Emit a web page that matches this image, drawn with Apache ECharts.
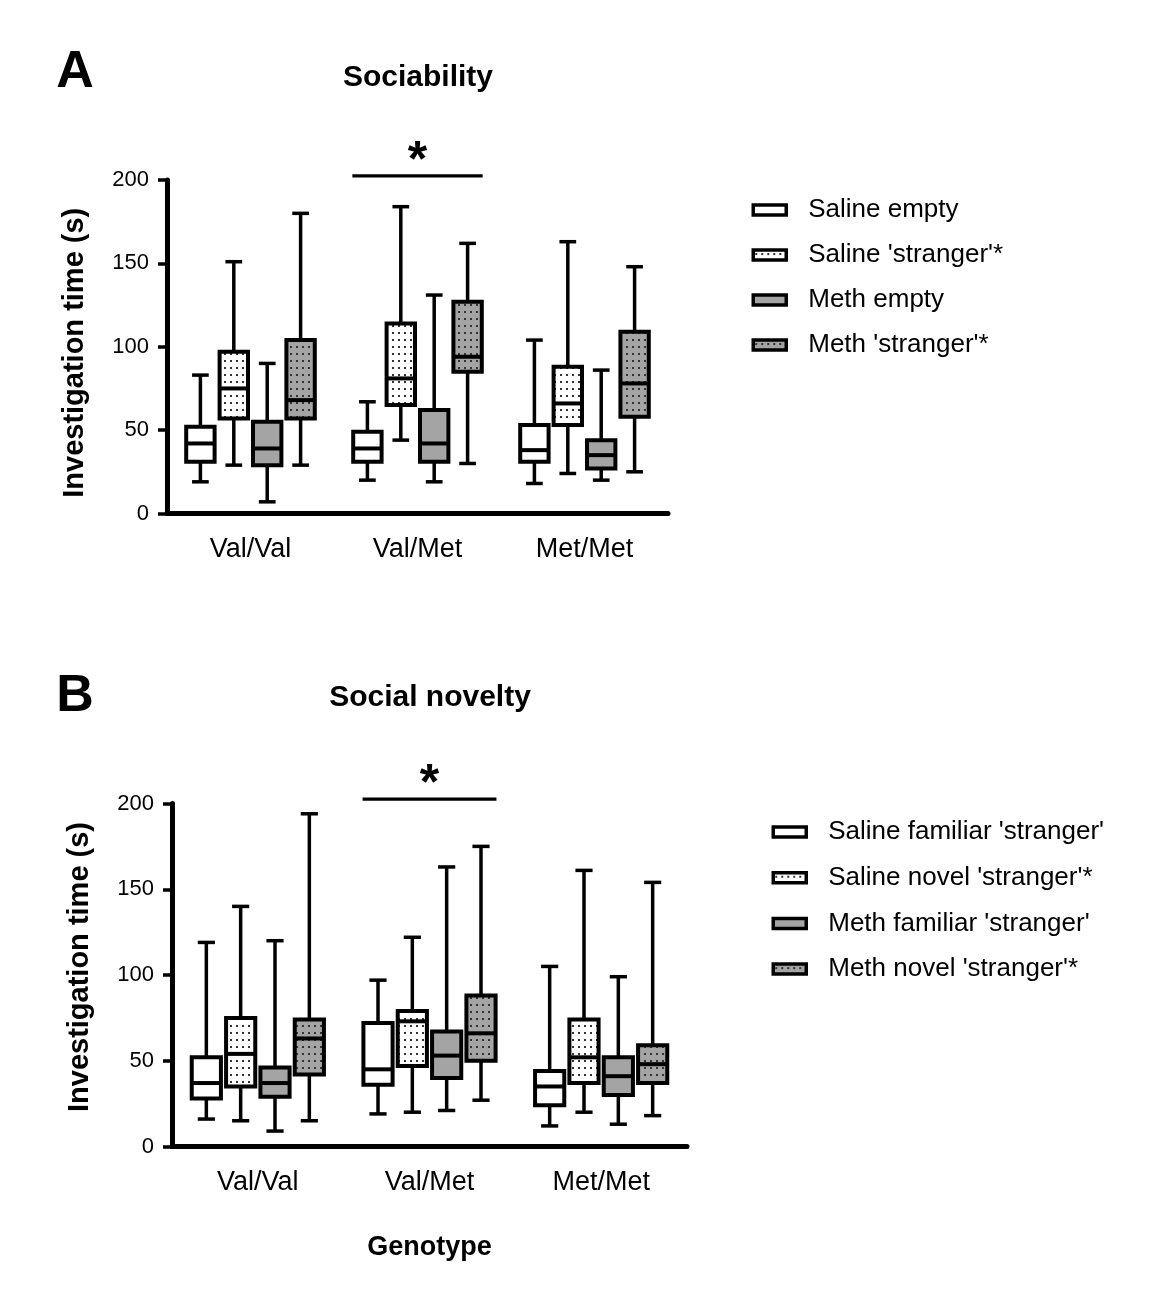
<!DOCTYPE html>
<html>
<head>
<meta charset="utf-8">
<script src="https://cdn.jsdelivr.net/npm/echarts@6/dist/echarts.min.js"></script>
<style>html,body{margin:0;background:#fff}#main{width:1166px;height:1311px}</style>
</head>
<body>
<div id="main"></div>
<script>
// genotypes on the x axis
var genotypes = ['Val/Val', 'Val/Met', 'Met/Met'];
var yTicks = [0, 50, 100, 150, 200];

// box values per genotype: [min, q1, median, q3, max]
// A - sociability
var salineEmpty    = [[19, 31, 42, 52, 83], [20, 31, 39, 49, 67], [18, 31, 38, 53, 104]];
var salineStranger = [[29, 57, 75, 97, 151], [44, 65, 81, 114, 184], [24, 53, 66, 88, 163]];
var methEmpty      = [[7, 29, 39, 55, 90], [19, 31, 42, 62, 131], [20, 27, 35, 44, 86]];
var methStranger   = [[29, 57, 68, 104, 180], [30, 85, 94, 127, 162], [25, 58, 78, 109, 148]];

// B - social novelty
var salineFamiliar = [[16, 28, 37, 52, 119], [19, 36, 45, 72, 97], [12, 24, 35, 44, 105]];
var salineNovel    = [[15, 35, 54, 75, 140], [20, 47, 73, 79, 122], [20, 37, 52, 74, 161]];
var methFamiliar   = [[9, 29, 37, 46, 120], [21, 40, 53, 67, 163], [13, 30, 41, 52, 99]];
var methNovel      = [[15, 42, 63, 74, 194], [27, 50, 66, 88, 175], [18, 37, 48, 59, 154]];

// significance bar: genotype index, height
var sigGroup = 1, sigLevel = 202.5;

var GRAY = '#a4a4a4';
function dots(bg) {
    var c = document.createElement('canvas');
    c.width = 6; c.height = 7;
    var g = c.getContext('2d');
    g.fillStyle = bg; g.fillRect(0, 0, 6, 7);
    g.fillStyle = '#333'; g.fillRect(2, 3, 2, 2);
    return { image: c, repeat: 'repeat' };
}
var fills = ['#fff', dots('#fff'), GRAY, dots(GRAY)];
var offsets = [-0.3, -0.1, 0.1, 0.3];

function toRows(arr) {
    return arr.map(function (v, i) { return [i].concat(v); });
}

function boxRender(k) {
    return function (params, api) {
        var cat = api.value(0);
        var band = api.size([1, 0])[0];
        var cx = api.coord([cat, 0])[0] + offsets[k] * band;
        var y = [1, 2, 3, 4, 5].map(function (d) { return api.coord([cat, api.value(d)])[1]; });
        var w = band * 0.17, cap = band * 0.1;
        var ln = { stroke: '#000', lineWidth: 3.5 };
        return { type: 'group', children: [
            { type: 'line', shape: { x1: cx, y1: y[4], x2: cx, y2: y[0] }, style: ln },
            { type: 'line', shape: { x1: cx - cap / 2, y1: y[4], x2: cx + cap / 2, y2: y[4] }, style: ln },
            { type: 'line', shape: { x1: cx - cap / 2, y1: y[0], x2: cx + cap / 2, y2: y[0] }, style: ln },
            { type: 'rect', shape: { x: cx - w / 2, y: y[3], width: w, height: y[1] - y[3] },
              style: { fill: fills[k], stroke: '#000', lineWidth: 4 } },
            { type: 'line', shape: { x1: cx - w / 2, y1: y[2], x2: cx + w / 2, y2: y[2] },
              style: { stroke: '#000', lineWidth: 4 } }
        ] };
    };
}

function sigRender(params, api) {
    var p = api.coord([api.value(0), api.value(1)]);
    var band = api.size([1, 0])[0];
    return { type: 'group', children: [
        { type: 'line', shape: { x1: p[0] - 0.39 * band, y1: p[1], x2: p[0] + 0.39 * band, y2: p[1] },
          style: { stroke: '#000', lineWidth: 3.2 } },
        { type: 'text', x: p[0], y: p[1] - 14,
          style: { text: '*', fontSize: 50, fontWeight: 'bold', fill: '#000', align: 'center', verticalAlign: 'middle' } }
    ] };
}

function boxSeries(name, arr, k, idx) {
    return { name: name, type: 'custom', xAxisIndex: idx, yAxisIndex: idx, data: toRows(arr),
        encode: { x: 0, y: [1, 2, 3, 4, 5] }, itemStyle: { color: fills[k] }, renderItem: boxRender(k) };
}

function yAx(idx, pad) {
    return { gridIndex: idx, type: 'value', min: 0, max: 200, interval: 50,
        name: 'Investigation time (s)', nameLocation: 'middle', nameGap: 78,
        nameTextStyle: { fontSize: 29, fontWeight: 'bold', color: '#000', padding: pad },
        axisLine: { show: true, lineStyle: { color: '#000', width: 5 } },
        axisTick: { show: true, length: 9, lineStyle: { color: '#000', width: 3.5 } },
        axisLabel: { fontSize: 22, color: '#000', margin: 18, customValues: yTicks },
        splitLine: { show: false } };
}
function xAx(idx, extra) {
    var a = { gridIndex: idx, type: 'category', data: genotypes,
        axisLine: { lineStyle: { color: '#000', width: 5 } },
        axisTick: { show: false },
        axisLabel: { fontSize: 27, color: '#000', margin: 23 } };
    return Object.assign(a, extra || {});
}

var legA = ['Saline empty', "Saline 'stranger'*", 'Meth empty', "Meth 'stranger'*"];
var legB = ["Saline familiar 'stranger'", "Saline novel 'stranger'*", "Meth familiar 'stranger'", "Meth novel 'stranger'*"];
function legend(names, left, top, gap) {
    return { orient: 'vertical', left: left, top: top, icon: 'rect', itemWidth: 33, itemHeight: 10, itemGap: gap,
        selectedMode: false,
        itemStyle: { borderColor: '#000', borderWidth: 3.5 },
        textStyle: { fontSize: 26, lineHeight: 26, color: '#000', padding: [0, 0, 0, 17] },
        data: names.map(function (n, k) { return { name: n, itemStyle: { color: fills[k], borderColor: '#000', borderWidth: 3.5 } }; }) };
}

var chart = echarts.init(document.getElementById('main'));
chart.setOption({
    animation: false,
    backgroundColor: '#fff',
    textStyle: { fontFamily: 'Liberation Sans, Arial, sans-serif' },
    graphic: [
        { type: 'text', x: 75, y: 73, style: { text: 'A', fontSize: 52, fontWeight: 'bold', fill: '#000', align: 'center', verticalAlign: 'middle' } },
        { type: 'text', x: 418, y: 78, style: { text: 'Sociability', fontSize: 30, fontWeight: 'bold', fill: '#000', align: 'center', verticalAlign: 'middle' } },
        { type: 'text', x: 75, y: 697, style: { text: 'B', fontSize: 52, fontWeight: 'bold', fill: '#000', align: 'center', verticalAlign: 'middle' } },
        { type: 'text', x: 430, y: 698, style: { text: 'Social novelty', fontSize: 30, fontWeight: 'bold', fill: '#000', align: 'center', verticalAlign: 'middle' } }
    ],
    legend: [legend(legA, 746.5, 192, 19), legend(legB, 766.5, 814, 19.7)],
    grid: [
        { left: 167, top: 180, width: 501, height: 333.5 },
        { left: 172, top: 803.5, width: 515, height: 343 }
    ],
    xAxis: [xAx(0), xAx(1, { name: 'Genotype', nameLocation: 'middle', nameGap: 88,
        nameTextStyle: { fontSize: 27, fontWeight: 'bold', color: '#000' } })],
    yAxis: [yAx(0, [0, 12, 0, 0]), yAx(1, [0, 0, 0, 16])],
    series: [
        boxSeries(legA[0], salineEmpty, 0, 0),
        boxSeries(legA[1], salineStranger, 1, 0),
        boxSeries(legA[2], methEmpty, 2, 0),
        boxSeries(legA[3], methStranger, 3, 0),
        boxSeries(legB[0], salineFamiliar, 0, 1),
        boxSeries(legB[1], salineNovel, 1, 1),
        boxSeries(legB[2], methFamiliar, 2, 1),
        boxSeries(legB[3], methNovel, 3, 1),
        { type: 'custom', xAxisIndex: 0, yAxisIndex: 0, clip: false, silent: true,
          data: [[sigGroup, sigLevel]], encode: { x: 0, y: 1 }, renderItem: sigRender },
        { type: 'custom', xAxisIndex: 1, yAxisIndex: 1, clip: false, silent: true,
          data: [[sigGroup, sigLevel]], encode: { x: 0, y: 1 }, renderItem: sigRender }
    ]
});
</script>
</body>
</html>
